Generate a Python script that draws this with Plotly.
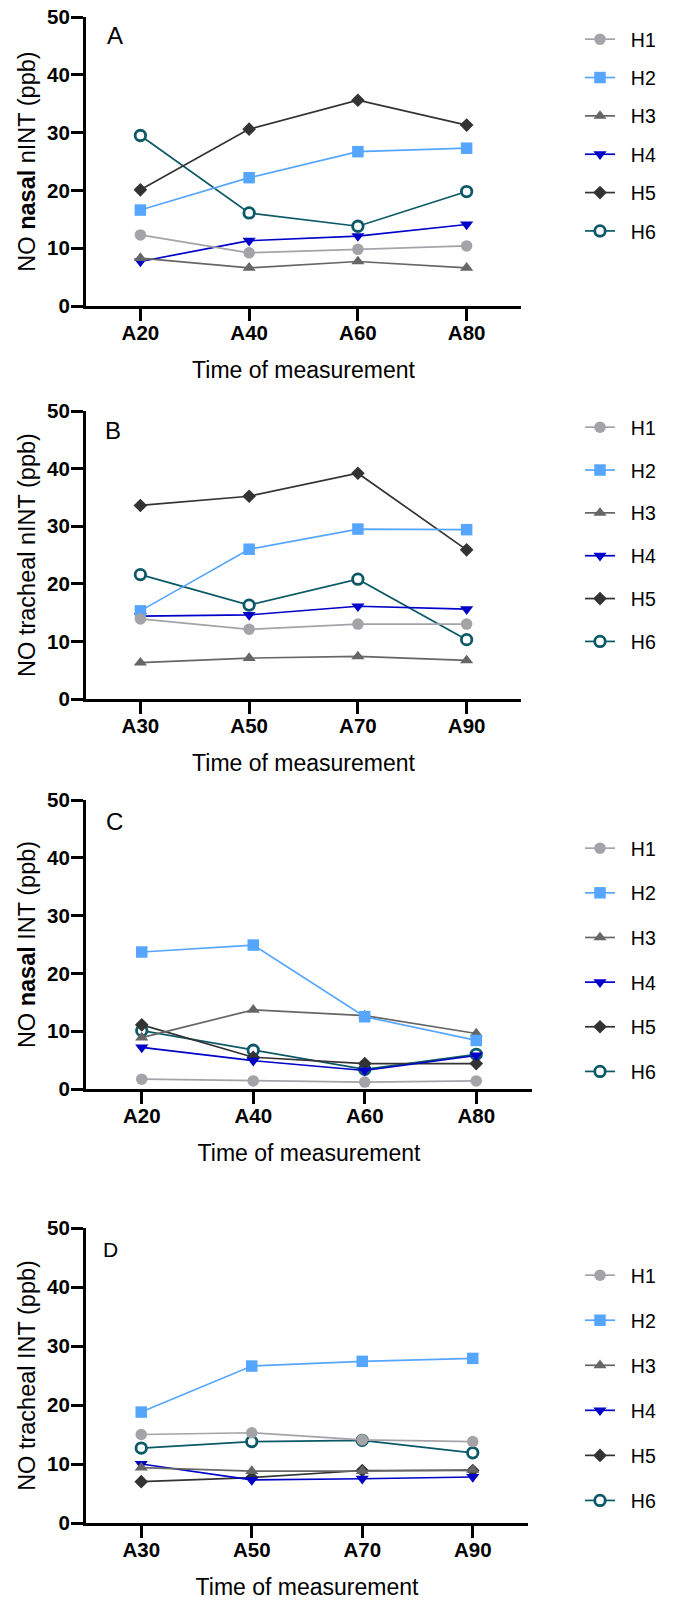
import plotly.graph_objects as go

# ---------------- data ----------------
cats_20 = ["A20", "A40", "A60", "A80"]
cats_30 = ["A30", "A50", "A70", "A90"]
series_names = ["H1", "H2", "H3", "H4", "H5", "H6"]

a_H1 = [12.3, 9.2, 9.8, 10.4]
a_H2 = [16.6, 22.2, 26.7, 27.3]
a_H3 = [8.3, 6.6, 7.7, 6.6]
a_H4 = [7.7, 11.3, 12.1, 14.1]
a_H5 = [20.1, 30.6, 35.6, 31.3]
a_H6 = [29.5, 16.1, 13.8, 19.8]

b_H1 = [13.9, 12.1, 13.0, 13.0]
b_H2 = [15.3, 26.0, 29.5, 29.4]
b_H3 = [6.3, 7.1, 7.4, 6.7]
b_H4 = [14.4, 14.6, 16.1, 15.6]
b_H5 = [33.6, 35.2, 39.2, 25.9]
b_H6 = [21.6, 16.3, 20.8, 10.3]

c_H1 = [1.7, 1.4, 1.2, 1.4]
c_H2 = [23.7, 24.9, 12.5, 8.4]
c_H3 = [8.9, 13.7, 12.7, 9.6]
c_H4 = [7.2, 4.9, 3.2, 5.8]
c_H5 = [11.1, 5.5, 4.4, 4.4]
c_H6 = [10.1, 6.7, 3.4, 6.0]

d_H1 = [15.0, 15.3, 14.1, 13.8]
d_H2 = [18.8, 26.6, 27.4, 27.9]
d_H3 = [9.4, 8.8, 8.8, 9.0]
d_H4 = [10.0, 7.3, 7.5, 7.8]
d_H5 = [7.0, 7.7, 8.9, 8.9]
d_H6 = [12.7, 13.8, 14.0, 11.9]

panel_letters = ["A", "B", "C", "D"]
y_titles = ["NO <b>nasal</b> nINT (ppb)", "NO tracheal nINT (ppb)",
            "NO <b>nasal</b> INT (ppb)", "NO tracheal INT (ppb)"]
x_title = "Time of measurement"

# ---------------- styles ----------------
W, H = 677, 1603
FONT = "Liberation Sans, Arial, Helvetica, sans-serif"
styles = {
    "H1": dict(color="#A4A4A8", symbol="circle", size=11.5, fill="#A4A4A8", lw=0),
    "H2": dict(color="#56A6FF", symbol="square", size=11.5, fill="#56A6FF", lw=0),
    "H3": dict(color="#666666", symbol="triangle-up", size=11.5, fill="#666666", lw=0),
    "H4": dict(color="#0000C8", symbol="triangle-down", size=11.5, fill="#0000C8", lw=0),
    "H5": dict(color="#333333", symbol="diamond", size=10.5, fill="#333333", lw=0),
    "H6": dict(color="#0B5866", symbol="circle", size=10.5, fill="#FFFFFF", lw=2.8),
}

panels = [
    dict(cats=cats_20, data=[a_H1, a_H2, a_H3, a_H4, a_H5, a_H6],
         x0=86, x1=521, ytop=17, ybot=306, lab=(115, 35), leg=(580, 20), gap=10),
    dict(cats=cats_30, data=[b_H1, b_H2, b_H3, b_H4, b_H5, b_H6],
         x0=86, x1=521, ytop=411, ybot=699, lab=(113, 431), leg=(580, 408), gap=14.5),
    dict(cats=cats_20, data=[c_H1, c_H2, c_H3, c_H4, c_H5, c_H6],
         x0=86, x1=532, ytop=800, ybot=1089, lab=(114, 821), leg=(580, 829), gap=16.3),
    dict(cats=cats_30, data=[d_H1, d_H2, d_H3, d_H4, d_H5, d_H6],
         x0=86, x1=528, ytop=1228, ybot=1523, lab=(110, 1249), leg=(580, 1256), gap=16.7),
]

fig = go.Figure()
layout = dict(
    width=W, height=H, margin=dict(l=0, r=0, t=0, b=0, autoexpand=False),
    paper_bgcolor="white", plot_bgcolor="white",
    font=dict(family=FONT, color="black"),
    annotations=[],
)

for i, p in enumerate(panels):
    sfx = "" if i == 0 else str(i + 1)
    xa, ya = "x" + sfx, "y" + sfx
    leg = "legend" + sfx
    # draw in reverse so H1 sits on top
    for k in reversed(range(6)):
        name = series_names[k]
        st = styles[name]
        fig.add_trace(go.Scatter(
            x=p["cats"], y=p["data"][k], mode="lines+markers",
            name="\u00a0\u00a0" + name, legendrank=k + 1,
            legendgroup=f"{name}_{i}", legend=leg,
            line=dict(color=st["color"], width=1.7),
            marker=dict(symbol=st["symbol"], size=st["size"], color=st["fill"],
                        line=dict(color=st["color"], width=st["lw"])),
            xaxis=xa, yaxis=ya, cliponaxis=False,
        ))
    layout["xaxis" + sfx] = dict(
        domain=[p["x0"] / W, p["x1"] / W], anchor=ya, type="category",
        range=[-0.5, 3.5], showgrid=False, zeroline=False,
        showline=True, linecolor="black", linewidth=3,
        ticks="outside", ticklen=12, tickwidth=3, tickcolor="black",
        tickfont=dict(size=20.5, weight="bold", family=FONT), ticklabelstandoff=-6,
        title=dict(text=x_title, font=dict(size=23, family=FONT), standoff=20),
    )
    layout["yaxis" + sfx] = dict(
        domain=[1 - p["ybot"] / H, 1 - p["ytop"] / H], anchor=xa,
        range=[0, 50], dtick=10, showgrid=False, zeroline=False,
        showline=True, linecolor="black", linewidth=3,
        ticks="outside", ticklen=12, tickwidth=3, tickcolor="black",
        tickfont=dict(size=20.5, weight="bold", family=FONT), ticklabelstandoff=-3,
        title=dict(text=y_titles[i], font=dict(size=23.5, family=FONT), standoff=5),
    )
    layout[leg] = dict(
        x=p["leg"][0] / W, y=1 - p["leg"][1] / H, xanchor="left", yanchor="top",
        font=dict(size=19.5, family=FONT), itemwidth=30,
        traceorder="grouped", tracegroupgap=p["gap"], bgcolor="rgba(0,0,0,0)",
    )
    layout["annotations"].append(dict(
        text=panel_letters[i], xref="paper", yref="paper",
        x=p["lab"][0] / W, y=1 - p["lab"][1] / H, xanchor="center", yanchor="middle",
        showarrow=False, font=dict(size=24 if i < 3 else 21, family=FONT),
    ))

fig.update_layout(**layout)
fig.write_html("out.html", config={"displayModeBar": False},
               post_script="document.body.style.margin='0';document.body.style.padding='0';")
